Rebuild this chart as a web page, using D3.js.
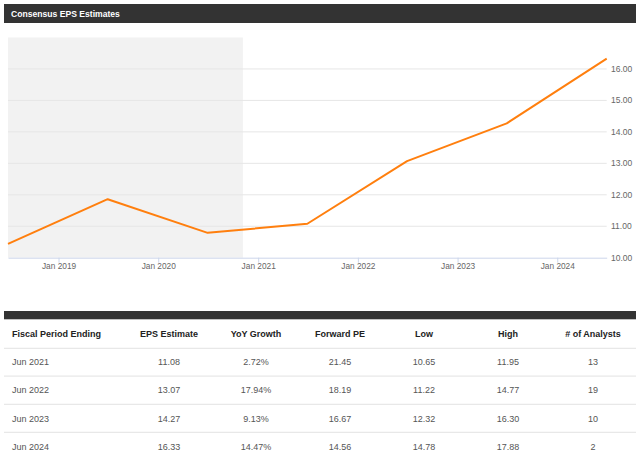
<!DOCTYPE html>
<html>
<head>
<meta charset="utf-8">
<script src="https://cdn.jsdelivr.net/npm/d3@7"></script>
<style>
  html, body { margin: 0; padding: 0; background: #fff; }
  svg { display: block; font-family: "Liberation Sans", Arial, sans-serif; }
</style>
</head>
<body>
<svg id="chart" width="640" height="458"></svg>
<script>
// ---- data ----
const title = "Consensus EPS Estimates";
const periods = ["2018-06-30", "2019-06-30", "2020-06-30", "2021-06-30", "2022-06-30", "2023-06-30", "2024-06-30"];
const eps = [10.44, 11.86, 10.79, 11.08, 13.07, 14.27, 16.33];
const actualEnd = "2020-11-06";
const yTicks = [10, 11, 12, 13, 14, 15, 16];
const xTicks = ["2019-01-01", "2020-01-01", "2021-01-01", "2022-01-01", "2023-01-01", "2024-01-01"];

const tableHeaders = ["Fiscal Period Ending", "EPS Estimate", "YoY Growth", "Forward PE", "Low", "High", "# of Analysts"];
const fiscalPeriods = ["Jun 2021", "Jun 2022", "Jun 2023", "Jun 2024"];
const epsEstimates = ["11.08", "13.07", "14.27", "16.33"];
const yoyGrowth = ["2.72%", "17.94%", "9.13%", "14.47%"];
const forwardPE = ["21.45", "18.19", "16.67", "14.56"];
const lows = ["10.65", "11.22", "12.32", "14.78"];
const highs = ["11.95", "14.77", "16.30", "17.88"];
const analysts = ["13", "19", "10", "2"];

// ---- drawing ----
const svg = d3.select("#chart");
const parse = d3.timeParse("%Y-%m-%d");

// title bar
svg.append("rect").attr("x", 4).attr("y", 4).attr("width", 632).attr("height", 19).attr("fill", "#333333");
svg.append("text").attr("x", 11).attr("y", 16.5).attr("fill", "#fff")
  .attr("font-size", "8.6px").attr("font-weight", "bold").text(title);

const x = d3.scaleTime()
  .domain([parse(periods[0]), parse(periods[periods.length - 1])])
  .range([8, 606.7]);
const y = d3.scaleLinear().domain([10, 17]).range([257.7, 37.5]);

// shaded actual region
svg.append("rect")
  .attr("x", x(parse(periods[0])))
  .attr("y", y(17))
  .attr("width", x(parse(actualEnd)) - x(parse(periods[0])))
  .attr("height", y(10) - y(17))
  .attr("fill", "#f2f2f2");

// gridlines
svg.append("g").selectAll("line").data(yTicks.slice(1)).join("line")
  .attr("x1", 8).attr("x2", 606.7)
  .attr("y1", d => y(d)).attr("y2", d => y(d))
  .attr("stroke", "#e6e6e6").attr("stroke-width", 1);

// y labels (right)
svg.append("g").selectAll("text").data(yTicks).join("text")
  .attr("x", 611).attr("y", d => y(d) + 3)
  .attr("font-size", "8.5px").attr("fill", "#666")
  .text(d => d3.format(".2f")(d));

// x axis
const xAxis = d3.axisBottom(x)
  .tickValues(xTicks.map(parse))
  .tickFormat(d3.timeFormat("Jan %Y"))
  .tickSize(5).tickSizeOuter(0);
const gx = svg.append("g").attr("transform", `translate(0,${y(10)})`).call(xAxis);
gx.select(".domain").attr("stroke", "#ccd6eb");
gx.selectAll(".tick line").attr("stroke", "#ccd6eb");
gx.selectAll(".tick text").attr("fill", "#666").attr("font-size", "8.3px")
  .attr("font-family", "Liberation Sans, Arial, sans-serif").attr("dy", "0.55em").attr("y", 7);

// line
const line = d3.line().x((d, i) => x(parse(periods[i]))).y(d => y(d));
svg.append("path").datum(eps).attr("d", line)
  .attr("fill", "none").attr("stroke", "#ff7f0e").attr("stroke-width", 2)
  .attr("stroke-linejoin", "round");

// ---- table ----
svg.append("rect").attr("x", 4).attr("y", 311).attr("width", 632).attr("height", 8.3).attr("fill", "#333333");

const colX = [12, 169, 256, 340, 424, 508, 593];
const colAnchor = ["start", "middle", "middle", "middle", "middle", "middle", "middle"];

svg.append("g").selectAll("text").data(tableHeaders).join("text")
  .attr("x", (d, i) => colX[i]).attr("y", 337.3)
  .attr("text-anchor", (d, i) => colAnchor[i])
  .attr("font-size", "9px").attr("font-weight", "bold").attr("fill", "#222")
  .text(d => d);

const rowsY = [361.7, 390, 418.3, 446.7];
const sepY = [348.3, 376.2, 404.3, 432.4];
svg.append("g").selectAll("line").data(sepY).join("line")
  .attr("x1", 4).attr("x2", 636).attr("y1", d => d).attr("y2", d => d)
  .attr("stroke", "#e8e8e8").attr("stroke-width", 1.3);

const columns = [fiscalPeriods, epsEstimates, yoyGrowth, forwardPE, lows, highs, analysts];
columns.forEach((col, ci) => {
  svg.append("g").selectAll("text").data(col).join("text")
    .attr("x", colX[ci]).attr("y", (d, ri) => rowsY[ri] + 3.2)
    .attr("text-anchor", colAnchor[ci])
    .attr("font-size", "9px").attr("fill", "#555")
    .text(d => d);
});
</script>
</body>
</html>
